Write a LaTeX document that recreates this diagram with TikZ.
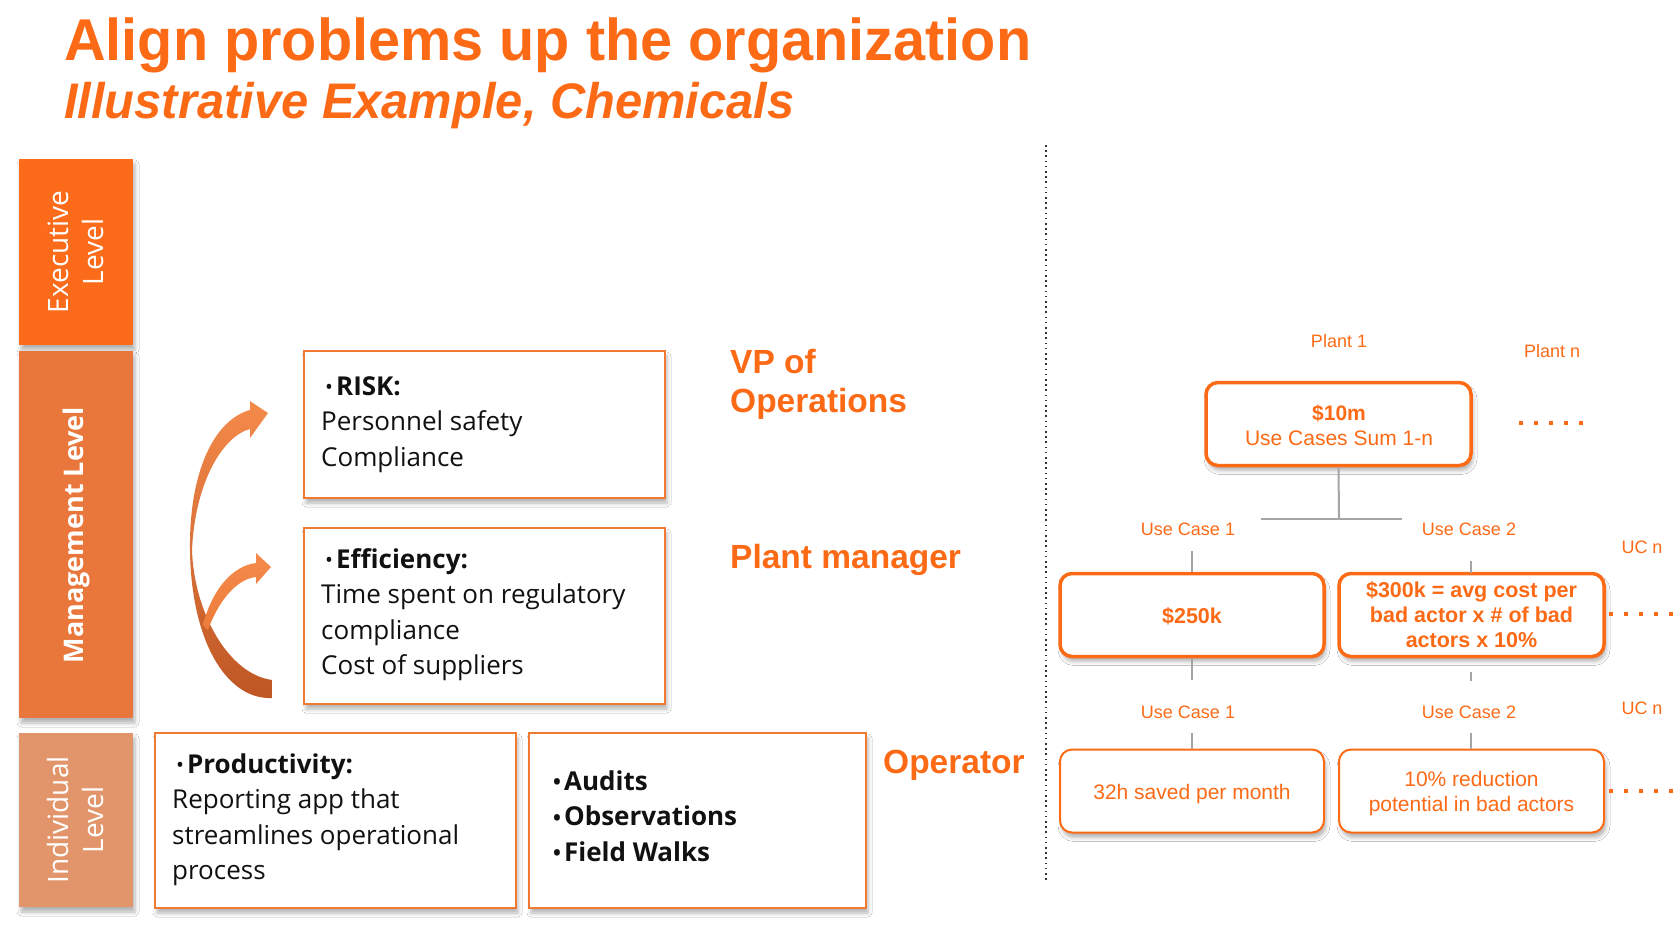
\documentclass[tikz,border=0pt]{standalone}
\usepackage{fontspec}
\setmainfont{Open Sans}
\newfontfamily\headfont[FakeStretch=0.977]{Liberation Sans}
\newfontfamily\labelfont{Liberation Sans}
\usetikzlibrary{shadows.blur}

\definecolor{brand}{RGB}{253,106,22}
\definecolor{boxline}{RGB}{239,122,50}
\definecolor{execbar}{RGB}{251,107,26}
\definecolor{mgmtbar}{RGB}{233,118,58}
\definecolor{indbar}{RGB}{226,149,106}
\definecolor{ink}{RGB}{17,17,17}
\definecolor{stemgray}{RGB}{165,165,165}
\definecolor{arrowtop}{RGB}{244,138,74}
\definecolor{arrowmid}{RGB}{238,124,60}
\definecolor{arrowbot}{RGB}{190,86,36}

\newcommand\bulletmark{\hspace*{4pt}{\fontsize{21}{21}\selectfont\raisebox{0.5pt}{\textbullet}}\hspace{3pt}}

\tikzset{
  txt/.style={inner sep=0pt, anchor=base west},
  ctxt/.style={inner sep=0pt, anchor=base},
  softshadow/.style={blur shadow={shadow xshift=2pt, shadow yshift=-5pt, shadow blur radius=4pt, shadow opacity=30}},
  levelbar/.style={draw=none, inner sep=0pt, minimum width=114pt, softshadow},
  bartext/.style={inner sep=0pt, text=white, align=center, rotate=90},
  factbox/.style={draw=boxline, line width=2pt, fill=white, inner sep=0pt, anchor=north west, softshadow},
  valuebox/.style={draw=brand, line width=3.5pt, rounded corners=12pt, fill=white, inner sep=0pt, minimum width=264pt, minimum height=83pt, softshadow},
  resultbox/.style={valuebox, line width=2pt},
  stem/.style={draw=stemgray, line width=2pt},
  ellipsis/.style={draw=brand, line width=4pt, dash pattern=on 4pt off 11pt},
  roletext/.style={txt, text=brand, font=\labelfont\bfseries\fontsize{33.5}{39}\selectfont},
  uclabel/.style={ctxt, text=brand, font=\labelfont\fontsize{18}{22}\selectfont},
  valuetext/.style={ctxt, text=brand, font=\labelfont\fontsize{21}{25}\selectfont},
  boxtext/.style={txt, text=ink, font=\fontsize{26}{35.5}\selectfont},
  upshade/.style={top color=arrowtop, middle color=arrowmid, bottom color=arrowbot},
}

\begin{document}
\begin{tikzpicture}[x=1pt,y=-1pt]
\useasboundingbox (0,0) rectangle (1680,928);
\fill[white] (0,0) rectangle (1680,928);

% heading
\node[txt, text=brand, font=\headfont\bfseries\fontsize{59}{60}\selectfont] (title) at (64,61) {Align problems up the organization};
\node[txt, text=brand, font=\headfont\bfseries\itshape\fontsize{50}{52}\selectfont] (subtitle) at (64,119) {Illustrative Example, Chemicals};

% level bars
\node[levelbar, fill=execbar, minimum height=186pt] (execbar) at (76,252) {};
\node[levelbar, fill=mgmtbar, minimum height=367pt] (mgmtbar) at (76,534.5) {};
\node[levelbar, fill=indbar, minimum height=174pt] (indbar) at (76,820) {};
\node[bartext, font=\fontsize{28}{35}\selectfont] (execlbl) at (75.5,252) {Executive\\Level};
\node[bartext, font=\bfseries\fontsize{27}{35}\selectfont] (mgmtlbl) at (76,535) {Management Level};
\node[bartext, font=\fontsize{28}{35}\selectfont] (indlbl) at (75.5,820) {Individual\\Level};

% escalation arrows
\shade[upshade] (272,698) .. controls (226,700) and (191,640) .. (190,550)
  .. controls (189,472) and (214,420) .. (250,410) -- (250,401) -- (268,413) -- (250,438) -- (250,429)
  .. controls (223,436) and (195,482) .. (192,550)
  .. controls (194,612) and (228,674) .. (272,680) -- cycle;
\shade[top color=arrowtop, bottom color=arrowmid] (203,625) .. controls (212,590) and (232,566) .. (256,563)
  -- (256,553) -- (271,567) -- (256,584) -- (256,577)
  .. controls (236,579) and (218,602) .. (208,630) -- cycle;

% problem boxes
\node[factbox, minimum width=361pt, minimum height=147pt] (riskbox) at (303,350) {};
\node[factbox, minimum width=361pt, minimum height=176pt] (effbox) at (303,527) {};
\node[factbox, minimum width=361pt, minimum height=175pt] (prodbox) at (154,732) {};
\node[factbox, minimum width=337pt, minimum height=175pt] (taskbox) at (528,732) {};

\node[boxtext] (risktext) at (321,395) {\parbox[t]{330pt}{\bulletmark\textbf{RISK:}\\Personnel safety\\Compliance}};
\node[boxtext] (efftext) at (321,568) {\parbox[t]{330pt}{\bulletmark\textbf{Efficiency:}\\Time spent on regulatory\\compliance\\Cost of suppliers}};
\node[boxtext] (prodtext) at (172,773) {\parbox[t]{330pt}{\bulletmark\textbf{Productivity:}\\Reporting app that\\streamlines operational\\process}};
\node[boxtext] (tasktext) at (549,790) {\parbox[t]{300pt}{\bfseries\bulletmark Audits\\\bulletmark Observations\\\bulletmark Field Walks}};

% roles
\node[roletext] (vp) at (730,373) {\parbox[t]{220pt}{VP of\\Operations}};
\node[roletext] (pm) at (730,568) {Plant manager};
\node[roletext] (op) at (883,773) {Operator};

% divider
\coordinate (divtop) at (1046,145);
\coordinate (divbot) at (1046,882);
\draw[black!80, line width=1.6pt, dash pattern=on 1.6pt off 3.6pt] (divtop) -- (divbot);

% plant level
\node[uclabel] (plant1) at (1339,347) {Plant 1};
\node[uclabel] (plantn) at (1552,357) {Plant n};
\node[valuebox, minimum width=265pt] (sumbox) at (1338.5,424) {};
\node[valuetext] (sumtext) at (1339,420) {\parbox[t]{250pt}{\centering\bfseries \$10m\\\mdseries Use Cases Sum 1-n}};
\coordinate (plantdots0) at (1519,423);
\coordinate (plantdots1) at (1583,423);
\draw[ellipsis] (plantdots0) -- (plantdots1);

\coordinate (joint) at (1339,519);
\coordinate (barl) at (1261,519);
\coordinate (barr) at (1402,519);
\draw[stem] (sumbox.south) -- (joint);
\draw[stem] (barl) -- (barr);

% use case values
\node[uclabel] (uca1) at (1188,535) {Use Case 1};
\node[uclabel] (uca2) at (1469,535) {Use Case 2};
\node[uclabel] (ucan) at (1642,553) {UC n};
\node[valuebox] (val1) at (1192,615) {};
\node[valuebox, minimum width=265pt] (val2) at (1471.5,615) {};
\coordinate (tick1a) at (1192,551);
\coordinate (tick2a) at (1471,561);
\draw[stem] (tick1a) -- (val1.north);
\draw[stem] (tick2a) -- (1471,573);
\node[valuetext, font=\labelfont\bfseries\fontsize{21.5}{25}\selectfont] (val1text) at (1192,623) {\$250k};
\node[valuetext, font=\labelfont\bfseries\fontsize{21.5}{25}\selectfont] (val2text) at (1471.5,597) {\parbox[t]{250pt}{\centering \$300k = avg cost per\\bad actor x \# of bad\\actors x 10\%}};
\coordinate (valdots0) at (1609,614);
\coordinate (valdots1) at (1673,614);
\draw[ellipsis] (valdots0) -- (valdots1);

\coordinate (tick1b) at (1192,680);
\coordinate (tick2b0) at (1471,672);
\coordinate (tick2b1) at (1471,681);
\draw[stem] (val1.south) -- (tick1b);
\draw[stem] (tick2b0) -- (tick2b1);

% use case results
\node[uclabel] (ucb1) at (1188,718) {Use Case 1};
\node[uclabel] (ucb2) at (1469,718) {Use Case 2};
\node[uclabel] (ucbn) at (1642,714) {UC n};
\node[resultbox] (res1) at (1192,791) {};
\node[resultbox, minimum width=265pt] (res2) at (1471.5,791) {};
\coordinate (tick1c) at (1192,733);
\coordinate (tick2c) at (1471,733);
\draw[stem] (tick1c) -- (res1.north);
\draw[stem] (tick2c) -- (1471,749);
\node[valuetext] (res1text) at (1192,799) {32h saved per month};
\node[valuetext] (res2text) at (1471.5,786) {\parbox[t]{250pt}{\centering 10\% reduction\\potential in bad actors}};
\coordinate (resdots0) at (1609,791);
\coordinate (resdots1) at (1673,791);
\draw[ellipsis] (resdots0) -- (resdots1);
\end{tikzpicture}
\end{document}
